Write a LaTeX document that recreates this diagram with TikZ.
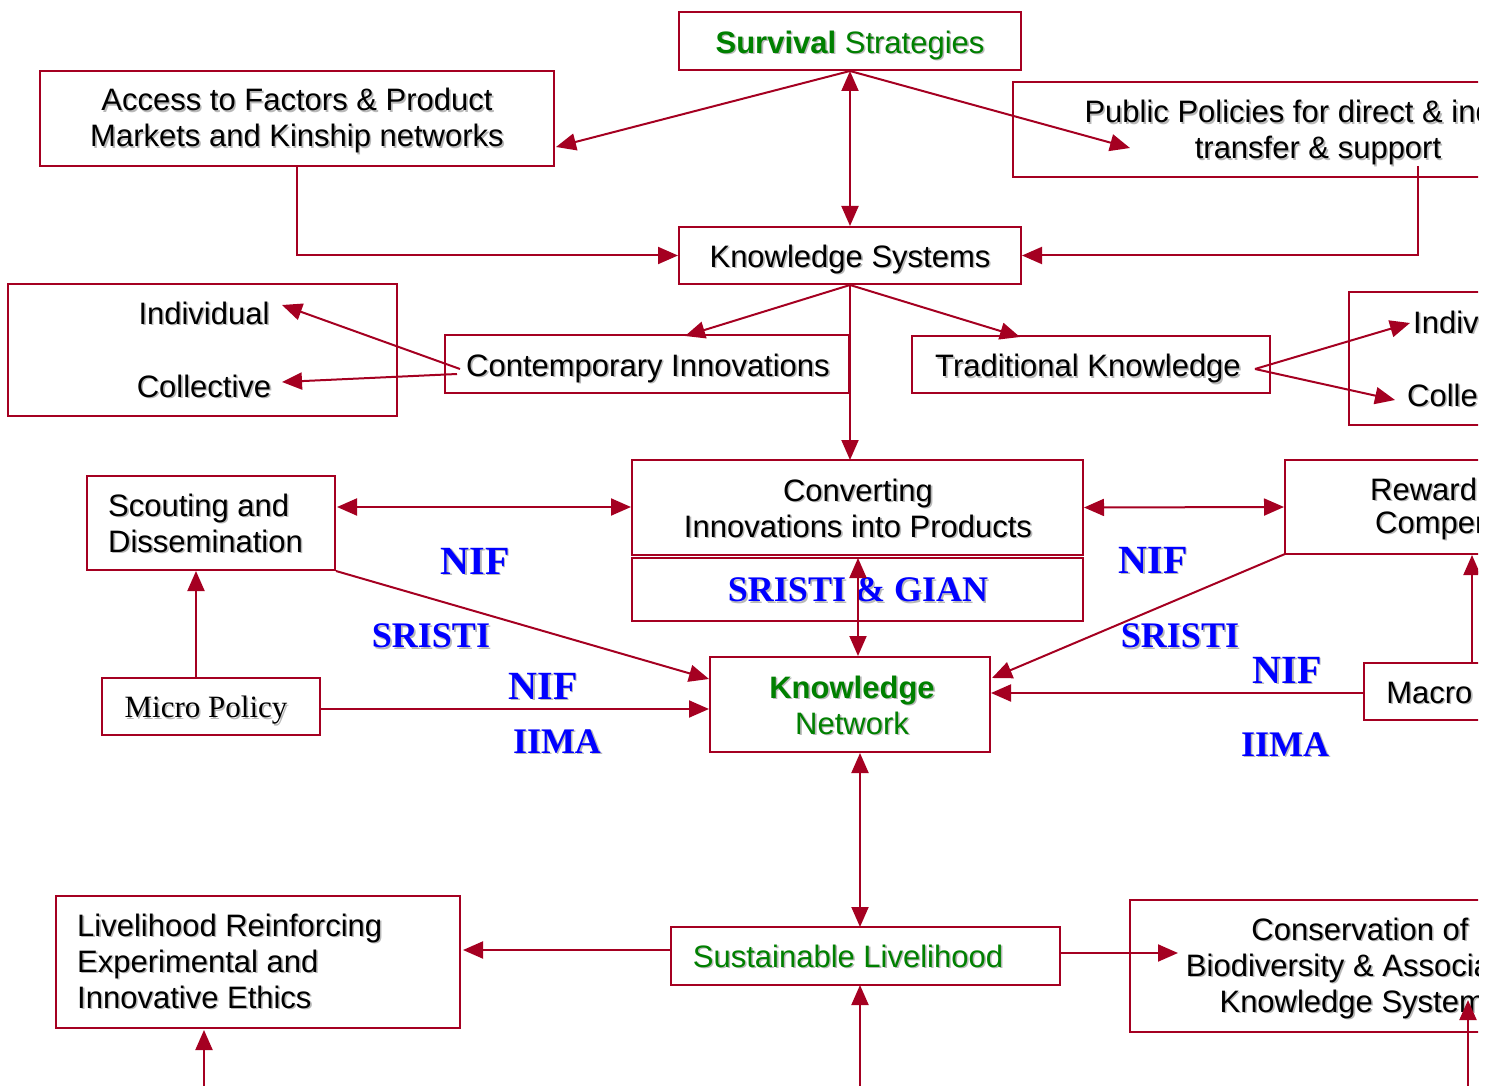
\documentclass[tikz,border=0pt]{standalone}
\usepackage{fontspec}
\setmainfont{Liberation Sans}
\newfontfamily\tnr{Liberation Serif}
\usetikzlibrary{arrows.meta}
\definecolor{dr}{HTML}{A50021}
\definecolor{gr}{HTML}{008000}
\definecolor{bl}{HTML}{0000FF}
\newcommand\shd[1]{\leavevmode\rlap{\hspace{1.6pt}\raisebox{-1.6pt}{\textcolor{black!28}{#1}}}#1}
\tikzset{
 bx/.style={draw=dr, line width=2pt, rectangle, inner sep=0pt},
 tx/.style={inner sep=0pt, font=\fontsize{31}{36}\selectfont, align=center},
 txl/.style={inner sep=0pt, font=\fontsize{31}{36}\selectfont, align=left},
 con/.style={draw=dr, line width=2pt, -{Triangle[length=20pt,width=17pt]}},
 dcon/.style={draw=dr, line width=2pt, {Triangle[length=20pt,width=17pt]}-{Triangle[length=20pt,width=17pt]}},
 org/.style={text=bl, font=\tnr\bfseries\fontsize{36}{40}\selectfont, inner sep=0pt},
 orgbig/.style={text=bl, font=\tnr\bfseries\fontsize{40}{44}\selectfont, inner sep=0pt},
}
\begin{document}
\begin{tikzpicture}[x=1pt,y=-1pt]
\useasboundingbox (0,0) rectangle (1492,1086);
\begin{scope}
\clip (0,0) rectangle (1478,1086);
% boxes
\node[bx, minimum width=342pt, minimum height=58pt] (surv) at (850,41) {};
\node[tx, text=gr] (survt) at (850,46) {\shd{{\bfseries Survival} Strategies}};
\node[bx, minimum width=514pt, minimum height=95pt] (access) at (297,118.5) {};
\node[tx] (accesst) at (297,121.5) {\shd{Access to Factors \& Product}\\\shd{Markets and Kinship networks}};
\node[bx, minimum width=610pt, minimum height=95pt] (public) at (1318,129.5) {};
\node[tx] (publict) at (1318,133.5) {\shd{Public Policies for direct \& indirect}\\\shd{transfer \& support}};
\node[bx, minimum width=342pt, minimum height=57pt] (ks) at (850,255.5) {};
\node[tx] (kst) at (850,260) {\shd{Knowledge Systems}};
\node[bx, minimum width=389pt, minimum height=132pt] (icL) at (202.5,350) {};
\node[tx] (indL) at (204,314) {\shd{Individual}};
\node[tx] (colL) at (204,387) {\shd{Collective}};
\node[bx, minimum width=404pt, minimum height=58pt] (contemp) at (647,364) {};
\node[tx] (contempt) at (648,369) {\shd{Contemporary Innovations}};
\node[bx, minimum width=358pt, minimum height=57pt] (trad) at (1091,364.5) {};
\node[tx] (tradt) at (1088,369.5) {\shd{Traditional Knowledge}};
\node[bx, minimum width=391pt, minimum height=133pt] (icR) at (1544.5,358.5) {};
\node[txl, anchor=west] (indR) at (1413,323) {\shd{Individual}};
\node[txl, anchor=west] (colR) at (1407,396) {\shd{Collective}};
\node[bx, minimum width=451pt, minimum height=95pt] (conv) at (857.5,507.5) {};
\node[tx] (convt) at (858,509) {\shd{Converting}\\\shd{Innovations into Products}};
\node[bx, minimum width=451pt, minimum height=63pt] (sg) at (857.5,589.5) {};
\node[org] (sgt) at (858,591) {\shd{SRISTI \& GIAN}};
\node[bx, minimum width=248pt, minimum height=94pt] (scout) at (211,523) {};
\node[txl, anchor=west] (scoutt) at (108,524) {\shd{Scouting and}\\\shd{Dissemination}};
\node[bx, minimum width=380pt, minimum height=94pt] (reward) at (1475,507) {};
\node[txl, anchor=west] (rw1) at (1370,490) {\shd{Reward and}};
\node[txl, anchor=west] (rw2) at (1375,526) {\shd{Compensation}};
\node[bx, minimum width=280pt, minimum height=95pt] (kn) at (850,704.5) {};
\node[tx, text=gr] (knt) at (852,706) {\shd{\bfseries Knowledge}\\\shd{Network}};
\node[bx, minimum width=218pt, minimum height=57pt] (micro) at (211,706.5) {};
\node[tx, font=\tnr\fontsize{31}{36}\selectfont] (microt) at (206,711) {\shd{Micro Policy}};
\node[bx, minimum width=222pt, minimum height=57pt] (macro) at (1475,691.5) {};
\node[tx] (macrot) at (1475,696) {\shd{Macro Policy}};
\node[bx, minimum width=389pt, minimum height=58pt] (sust) at (865.5,956) {};
\node[tx, text=gr] (sustt) at (848,957) {\shd{Sustainable Livelihood}};
\node[bx, minimum width=404pt, minimum height=132pt] (liveli) at (258,962) {};
\node[txl, anchor=west] (livet) at (77,962) {\shd{Livelihood Reinforcing}\\\shd{Experimental and}\\\shd{Innovative Ethics}};
\node[bx, minimum width=460pt, minimum height=132pt] (conserv) at (1360,966) {};
\node[tx] (conservt) at (1360,969) {\shd{Conservation of}\\\shd{Biodiversity \& Associated}\\\shd{Knowledge Systems}};
% labels
\node[orgbig] (nif1) at (475,562) {\shd{NIF}};
\node[org] (sr1) at (431,637) {\shd{SRISTI}};
\node[orgbig] (nif2) at (543,687) {\shd{NIF}};
\node[org] (iima1) at (557,742) {\shd{IIMA}};
\node[orgbig] (nif3) at (1153,561) {\shd{NIF}};
\node[org] (sr2) at (1180,637) {\shd{SRISTI}};
\node[orgbig] (nif4) at (1287,671) {\shd{NIF}};
\node[org] (iima2) at (1285,745) {\shd{IIMA}};
% coordinates
\coordinate (sv) at (850,71);
\coordinate (accT) at (556,147);
\coordinate (pubT) at (1130,148);
\coordinate (pubS) at (1418,166);
\coordinate (ksS) at (850,285);
\coordinate (conT) at (685,336);
\coordinate (trT) at (1020,337);
\coordinate (convT) at (850,460);
\coordinate (cfork1) at (460,369);
\coordinate (cfork2) at (457,374);
\coordinate (indLT) at (282,305);
\coordinate (colLT) at (282,382);
\coordinate (tfork) at (1255,369);
\coordinate (indRT) at (1410,323);
\coordinate (colRT) at (1395,400);
\coordinate (scE) at (337,507);
\coordinate (cvW) at (631,507);
\coordinate (scSE) at (336,571);
\coordinate (knW1) at (709,679);
\coordinate (rwSW) at (1285,554);
\coordinate (knE1) at (992,678);
\coordinate (sgU) at (858,558);
\coordinate (knN) at (858,656);
\coordinate (miN) at (196,677);
\coordinate (scS) at (196,571);
\coordinate (miE) at (321,709);
\coordinate (knW2) at (709,709);
\coordinate (maW) at (1363,693);
\coordinate (knE2) at (991,693);
\coordinate (maN) at (1472,663);
\coordinate (rwS) at (1472,555);
\coordinate (knS) at (860,753);
\coordinate (suN) at (860,927);
\coordinate (suW) at (671,950);
\coordinate (liE) at (463,950);
\coordinate (suE) at (1060,953);
\coordinate (coT) at (1178,953);
\coordinate (b1) at (860,1086);
\coordinate (suS) at (860,985);
\coordinate (b2) at (204,1086);
\coordinate (liS) at (204,1030);
\coordinate (b3) at (1468,1086);
\coordinate (coA) at (1468,1000);
% connectors
\draw[con] (sv) -- (accT);
\draw[con] (sv) -- (pubT);
\draw[dcon] (sv) -- (ks.north);
\draw[con] (access.south) |- (ks.west);
\draw[con] (pubS) |- (ks.east);
\draw[con] (ksS) -- (conT);
\draw[con] (ksS) -- (trT);
\draw[con] (ksS) -- (convT);
\draw[con] (cfork1) -- (indLT);
\draw[con] (cfork2) -- (colLT);
\draw[con] (tfork) -- (indRT);
\draw[con] (tfork) -- (colRT);
\draw[dcon] (scE) -- (cvW);
\draw[dcon] (conv.east) -- (reward.west);
\draw[con] (scSE) -- (knW1);
\draw[con] (rwSW) -- (knE1);
\draw[dcon] (sgU) -- (knN);
\draw[con] (miN) -- (scS);
\draw[con] (miE) -- (knW2);
\draw[con] (maW) -- (knE2);
\draw[con] (maN) -- (rwS);
\draw[dcon] (knS) -- (suN);
\draw[con] (suW) -- (liE);
\draw[con] (suE) -- (coT);
\draw[con] (b1) -- (suS);
\draw[con] (b2) -- (liS);
\draw[con] (b3) -- (coA);
\end{scope}
\end{tikzpicture}
\end{document}
